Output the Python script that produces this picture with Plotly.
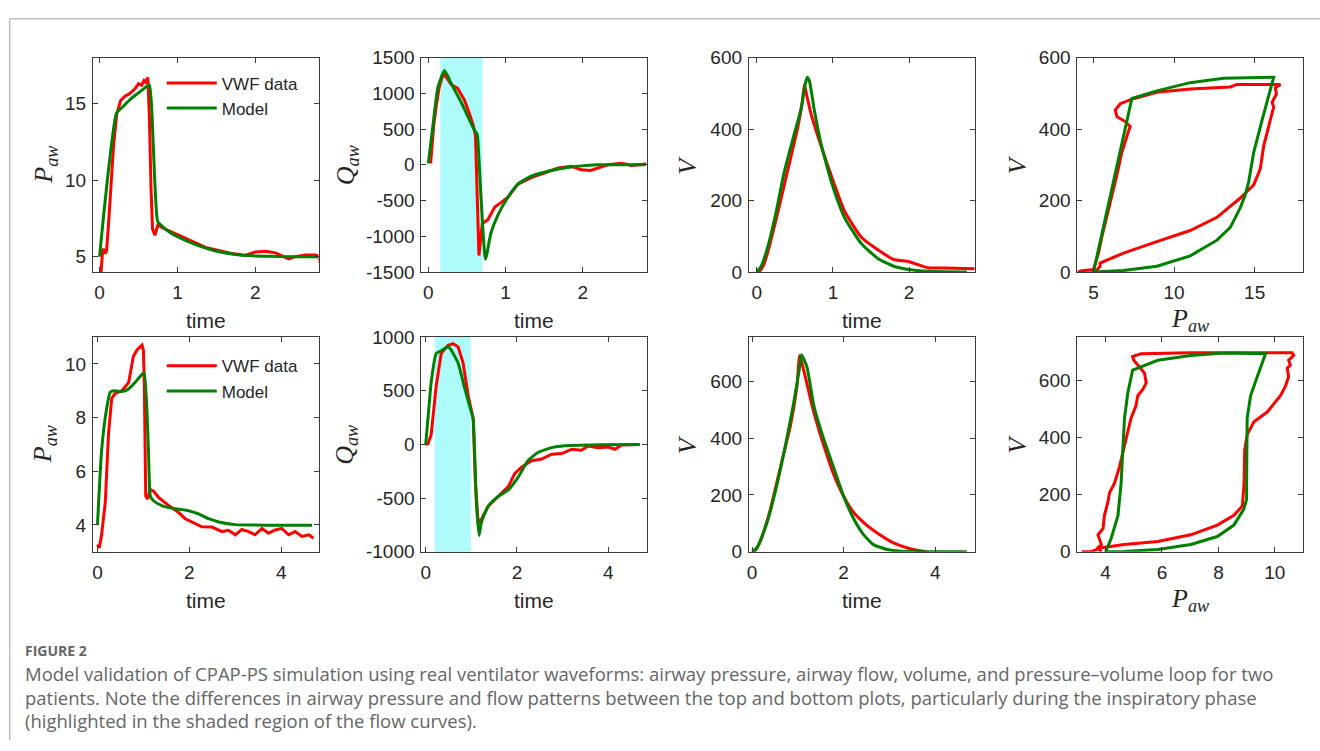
import plotly.graph_objects as go

RED = "#FF0000"
GREEN = "#008000"
SHADE = "rgb(174,251,251)"
AXC = "#3a3a3a"
TXT = "#262626"
SANS = "Liberation Sans, Arial, sans-serif"
SERIF = "Liberation Serif, Times New Roman, serif"

# ---------------- Patient 1 (top row) ----------------
p1_paw_data_t = [0, 0.02, 0.04, 0.05, 0.07, 0.09, 0.12, 0.15, 0.18, 0.22, 0.27, 0.33, 0.37, 0.42, 0.46, 0.5, 0.54,
                 0.57, 0.59, 0.62, 0.64, 0.66, 0.68, 0.71, 0.75, 0.8, 0.93, 1.06, 1.19, 1.36, 1.53, 1.7, 1.87,
                 2.0, 2.13, 2.26, 2.36, 2.43, 2.51, 2.64, 2.77, 2.81, 2.83]
p1_paw_data = [4.1, 4.1, 5.4, 5.5, 5.2, 5.4, 7.5, 10.0, 12.3, 14.3, 15.2, 15.5, 15.6, 15.8, 16.0, 16.3, 16.2,
               16.5, 16.4, 16.7, 14.0, 9.5, 6.8, 6.4, 7.1, 6.9, 6.6, 6.3, 6.0, 5.6, 5.4, 5.2, 5.1,
               5.3, 5.35, 5.25, 5.0, 4.85, 5.0, 5.1, 5.1, 5.05, 4.6]
p1_paw_model_t = [0, 0.05, 0.1, 0.15, 0.2, 0.22, 0.3, 0.4, 0.5, 0.6, 0.64, 0.745, 0.8, 0.9, 1.0, 1.2, 1.4, 1.6,
                  1.8, 2.0, 2.2, 2.4, 2.8]
p1_paw_model = [5.0, 7.6, 10.0, 12.2, 14.0, 14.4, 14.8, 15.3, 15.7, 16.1, 16.2, 7.3, 7.0, 6.6, 6.3, 5.85, 5.5, 5.25,
                5.1, 5.05, 5.02, 5.0, 5.0]

p1_q_data_t = [0.03, 0.05, 0.07, 0.1, 0.14, 0.18, 0.21, 0.25, 0.3, 0.38, 0.47, 0.53, 0.58, 0.61, 0.635, 0.655,
               0.68, 0.70, 0.77, 0.86, 0.94, 1.03, 1.16, 1.33, 1.5, 1.68, 1.85, 1.98, 2.1, 2.19, 2.32, 2.5,
               2.63, 2.82]
p1_q_data = [20, 300, 550, 800, 1080, 1230, 1260, 1200, 1120, 1070, 900, 720, 560, 410, -500, -1270,
             -1000, -820, -770, -590, -530, -455, -270, -180, -115, -45, -20, -70, -80, -45, 0, 20, -10, 10]
p1_q_model_t = [0, 0.06, 0.125, 0.21, 0.3, 0.43, 0.51, 0.6, 0.63, 0.64, 0.74, 0.81, 0.9, 1.03, 1.16, 1.33,
                1.55, 1.76, 1.98, 2.19, 2.62, 2.8]
p1_q_model = [20, 550, 1090, 1320, 1130, 865, 680, 480, 430, 360, -1320, -955, -705, -455, -270, -160,
              -90, -45, -15, 0, 0, 0]
p1_insp_window = [0.155, 0.70]

p1_v_data_t = [0.03, 0.08, 0.14, 0.28, 0.41, 0.54, 0.6, 0.625, 0.65, 0.71, 0.84, 1.02, 1.15, 1.37, 1.59, 1.8,
               1.98, 2.11, 2.24, 2.46, 2.87]
p1_v_data = [0, 15, 53, 171, 289, 407, 480, 525, 500, 444, 355, 244, 171, 98, 62, 35, 30, 21, 12, 11, 9]
p1_v_model_t = [0, 0.057, 0.144, 0.25, 0.36, 0.49, 0.58, 0.63, 0.66, 0.69, 0.755, 0.84, 0.93, 1.02, 1.15,
                1.37, 1.59, 1.8, 2.02, 2.24, 2.76]
p1_v_model = [0, 16, 71, 165, 280, 385, 455, 520, 545, 535, 453, 362, 289, 225, 153, 80, 38, 16, 6, 2, 0]

p1_loop_data_p = [4.0, 4.59, 5.2, 5.41, 5.41, 6.86, 8.93, 11.0, 12.66, 14.11, 14.94, 15.35, 15.56, 15.77,
                  15.97, 16.18, 16.08, 16.35, 16.28, 16.6, 13.9, 13.49, 11.0, 8.93, 7.48, 6.66, 6.35, 6.45,
                  6.97, 7.28, 7.17, 6.76, 6.45, 6.14, 5.83, 5.52, 5.31, 5.1, 5.0, 4.17]
p1_loop_data_v = [0, 5, 5, 16, 25, 53, 85, 116, 153, 207, 244, 289, 353, 389, 425, 462, 475, 498, 516, 525,
                  525, 518, 512, 503, 485, 471, 453, 435, 421, 407, 394, 335, 271, 216, 153, 98, 53, 25, 7, 3]
p1_loop_model_p = [5.0, 7.38, 8.93, 11.0, 13.07, 14.94, 16.18, 15.46, 14.94, 14.63, 14.42, 14.11, 13.49,
                   12.66, 11.0, 8.93, 6.86, 5.0]
p1_loop_model_v = [0, 486, 507, 530, 542, 545, 545, 425, 335, 253, 216, 180, 125, 89, 45, 16, 4, 0]

# ---------------- Patient 2 (bottom row) ----------------
p2_paw_data_t = [0, 0.04, 0.09, 0.17, 0.24, 0.31, 0.38, 0.53, 0.68, 0.78, 0.86, 0.93, 0.97, 1.0, 1.02, 1.05,
                 1.09, 1.15, 1.22, 1.33, 1.55, 1.76, 1.91, 2.05, 2.27, 2.49, 2.71, 2.85, 3.0, 3.14, 3.29,
                 3.43, 3.58, 3.72, 3.87, 4.01, 4.16, 4.3, 4.45, 4.6, 4.7]
p2_paw_data = [3.27, 3.15, 3.63, 4.84, 7.38, 8.71, 8.89, 9.0, 9.31, 10.28, 10.52, 10.64, 10.7, 10.5, 9.19,
               5.08, 4.96, 5.32, 5.26, 5.02, 4.72, 4.47, 4.23, 4.11, 3.93, 3.92, 3.75, 3.8, 3.63, 3.83, 3.75,
               3.63, 3.87, 3.69, 3.81, 3.87, 3.63, 3.75, 3.57, 3.63, 3.5]
p2_paw_model_t = [0, 0.09, 0.2, 0.28, 0.38, 0.53, 0.68, 0.82, 0.97, 1.02, 1.11, 1.15, 1.22, 1.4, 1.69,
                  1.98, 2.2, 2.42, 2.64, 3.0, 3.72, 4.67]
p2_paw_model = [3.99, 6.77, 8.34, 8.95, 9.0, 8.97, 9.07, 9.31, 9.61, 9.67, 6.77, 5.08, 4.9, 4.72, 4.6,
                4.53, 4.41, 4.23, 4.11, 4.01, 3.99, 3.99]

p2_q_data_t = [0, 0.05, 0.12, 0.23, 0.34, 0.49, 0.6, 0.71, 0.82, 0.93, 1.04, 1.09, 1.15, 1.22, 1.37, 1.51,
               1.66, 1.81, 1.95, 2.1, 2.32, 2.54, 2.76, 2.98, 3.2, 3.41, 3.56, 3.78, 4.0, 4.15, 4.29, 4.51,
               4.69]
p2_q_data = [0, 6, 91, 545, 848, 924, 939, 909, 758, 455, 242, -364, -727, -697, -576, -515, -455, -394,
             -273, -212, -152, -136, -91, -85, -45, -55, -15, -30, -24, -45, -6, 0, 0]
p2_q_model_t = [0, 0.05, 0.12, 0.23, 0.34, 0.49, 0.56, 0.71, 0.86, 1.0, 1.04, 1.11, 1.17, 1.22, 1.37, 1.59,
                1.81, 2.03, 2.24, 2.46, 2.76, 3.05, 3.78, 4.69]
p2_q_model = [0, 242, 576, 848, 873, 909, 879, 758, 515, 303, 242, -545, -848, -727, -576, -485, -424,
              -303, -152, -76, -30, -12, -3, 0]
p2_insp_window = [0.197, 0.987]

p2_v_data_t = [0.05, 0.18, 0.4, 0.62, 0.84, 0.98, 1.04, 1.13, 1.35, 1.56, 1.78, 2.0, 2.22, 2.51, 2.8, 3.09,
               3.38, 3.6, 3.82]
p2_v_data = [0, 36, 150, 297, 445, 581, 690, 637, 490, 377, 274, 195, 138, 93, 59, 31, 14, 5, 0]
p2_v_model_t = [0, 0.11, 0.33, 0.55, 0.76, 0.91, 1.05, 1.08, 1.2, 1.35, 1.56, 1.78, 2.0, 2.22, 2.44, 2.65,
                2.95, 3.24, 4.69]
p2_v_model = [0, 14, 104, 240, 399, 524, 660, 693, 649, 513, 399, 297, 195, 116, 59, 25, 8, 2, 0]

p2_loop_data_p = [3.16, 3.49, 3.85, 4.67, 5.85, 7.02, 7.96, 8.55, 8.85, 8.91, 8.93, 9.02, 9.26, 9.49, 9.73,
                  9.96, 10.2, 10.38, 10.49, 10.44, 10.55, 10.49, 10.67, 10.61, 9.38, 7.02, 5.26, 4.96, 5.0,
                  5.2, 5.38, 5.44, 5.32, 5.14, 5.08, 4.9, 4.73, 4.61, 4.49, 4.32, 4.14, 4.08, 3.96, 3.91,
                  3.73, 3.85, 3.73, 3.85]
p2_loop_data_v = [0, 0, 14, 25, 36, 59, 93, 127, 160, 240, 353, 409, 454, 471, 488, 516, 545, 579, 612, 641,
                  652, 669, 686, 695, 695, 695, 692, 682, 669, 646, 624, 590, 567, 545, 511, 466, 398, 353,
                  296, 240, 206, 172, 127, 81, 59, 25, 14, 0]
p2_loop_model_p = [4.0, 4.2, 4.44, 4.55, 4.61, 4.67, 4.79, 4.96, 5.85, 7.02, 8.2, 9.14, 9.67, 9.38, 9.14,
                   9.02, 9.0, 9.0, 9.0, 8.9, 8.55, 7.96, 7.02, 5.85, 4.67, 4.0]
p2_loop_model_v = [0, 47, 127, 240, 353, 466, 556, 635, 669, 686, 694, 694, 692, 612, 545, 466, 353, 240,
                   183, 149, 93, 53, 25, 8, 1, 0]

# ---------------- panel geometry (pixels in a 1320x751 page) ----------------
W, H = 1320, 751
col_px = [(91, 317), (420, 646), (748, 974), (1077, 1303)]
row_px = [(49, 269.5), (336.5, 557.3)]

fig = go.Figure()

panels = [
    # (row, col, xdata, ydata, xmodel, ymodel, xrange, yrange, xticks, yticks, ylabel, xlabel, smooth)
    (0, 0, p1_paw_data_t, p1_paw_data, p1_paw_model_t, p1_paw_model, [-0.086, 2.81], [4, 18], [0, 1, 2], [5, 10, 15], "P", "time", True),
    (0, 1, p1_q_data_t, p1_q_data, p1_q_model_t, p1_q_model, [-0.09, 2.83], [-1500, 1500], [0, 1, 2], [-1500, -1000, -500, 0, 500, 1000, 1500], "Q", "time", True),
    (0, 2, p1_v_data_t, p1_v_data, p1_v_model_t, p1_v_model, [-0.105, 2.86], [0, 600], [0, 1, 2], [0, 200, 400, 600], "V", "time", True),
    (0, 3, p1_loop_data_p, p1_loop_data_v, p1_loop_model_p, p1_loop_model_v, [4, 18], [0, 600], [5, 10, 15], [0, 200, 400, 600], "V", "P", False),
    (1, 0, p2_paw_data_t, p2_paw_data, p2_paw_model_t, p2_paw_model, [-0.1, 4.81], [3, 11], [0, 2, 4], [4, 6, 8, 10], "P", "time", True),
    (1, 1, p2_q_data_t, p2_q_data, p2_q_model_t, p2_q_model, [-0.095, 4.85], [-1000, 1000], [0, 2, 4], [-1000, -500, 0, 500, 1000], "Q", "time", True),
    (1, 2, p2_v_data_t, p2_v_data, p2_v_model_t, p2_v_model, [-0.07, 4.86], [0, 755], [0, 2, 4], [0, 200, 400, 600], "V", "time", True),
    (1, 3, p2_loop_data_p, p2_loop_data_v, p2_loop_model_p, p2_loop_model_v, [3, 11], [0, 750], [4, 6, 8, 10], [0, 200, 400, 600], "V", "P", False),
]

ylabel_shift = {0: -48, 1: -75, 2: -61, 3: -60}
annotations = []
shapes = []


def tick_text(vals):
    return [str(v) for v in vals]


for i, (r, c, xd, yd, xm, ym, xr, yr, xt, yt, ylab, xlab, smooth) in enumerate(panels):
    n = i + 1
    xa = "x" if n == 1 else f"x{n}"
    ya = "y" if n == 1 else f"y{n}"
    x0, x1 = col_px[c]
    t0, t1 = row_px[r]
    axis_common = dict(
        showline=True, linecolor=AXC, linewidth=1, mirror="ticks",
        ticks="inside", ticklen=5, tickwidth=1, tickcolor=AXC,
        showgrid=False, zeroline=False,
        tickfont=dict(family=SANS, size=19, color=TXT),
    )
    fig.layout[f"xaxis{'' if n == 1 else n}"] = dict(
        domain=[x0 / W, x1 / W], anchor=ya, range=xr, tickmode="array", tickvals=xt, ticktext=tick_text(xt),
        ticklabelstandoff=3, **axis_common)
    fig.layout[f"yaxis{'' if n == 1 else n}"] = dict(
        domain=[(H - t1) / H, (H - t0) / H], anchor=xa, range=yr, tickmode="array", tickvals=yt,
        ticktext=tick_text(yt), ticklabelstandoff=2, **axis_common)

    legend_name = "legend" if r == 0 else "legend2"
    show_leg = (c == 0)
    model_shape = dict(shape="spline", smoothing=0.5) if smooth else {}
    data_shape = dict(shape="spline", smoothing=0.5) if (smooth and ylab == "V") else {}
    fig.add_trace(go.Scatter(x=xd, y=yd, mode="lines", name="VWF data",
                             line=dict(color=RED, width=3, **data_shape), xaxis=xa, yaxis=ya,
                             showlegend=show_leg, legend=legend_name))
    fig.add_trace(go.Scatter(x=xm, y=ym, mode="lines", name="Model",
                             line=dict(color=GREEN, width=3, **model_shape), xaxis=xa, yaxis=ya,
                             showlegend=show_leg, legend=legend_name))

    # y-axis label (italic serif, LaTeX-like)
    if ylab == "V":
        ytxt = "<i>V</i>"
    else:
        ytxt = f"<i>{ylab}</i><sub><i>aw</i></sub>"
    annotations.append(dict(text=ytxt, xref=f"{xa} domain", yref=f"{ya} domain", x=0, y=0.5,
                            xanchor="center", yanchor="middle", xshift=ylabel_shift[c], textangle=-90,
                            showarrow=False, font=dict(family=SERIF, size=26, color=TXT)))
    # x-axis label
    if xlab == "time":
        annotations.append(dict(text="time", xref=f"{xa} domain", yref=f"{ya} domain", x=0.5, y=0,
                                xanchor="center", yanchor="middle", yshift=-49, showarrow=False,
                                font=dict(family=SANS, size=21, color=TXT)))
    else:
        annotations.append(dict(text="<i>P</i><sub><i>aw</i></sub>", xref=f"{xa} domain", yref=f"{ya} domain",
                                x=0.5, y=0, xanchor="center", yanchor="middle", yshift=-48, showarrow=False,
                                font=dict(family=SERIF, size=26, color=TXT)))

# shaded inspiratory windows on the flow plots
for ax_id, win in (("2", p1_insp_window), ("6", p2_insp_window)):
    shapes.append(dict(type="rect", xref=f"x{ax_id}", yref=f"y{ax_id} domain", x0=win[0], x1=win[1],
                       y0=0, y1=1, fillcolor=SHADE, line=dict(width=0), layer="below"))

# page frame lines
shapes.append(dict(type="line", xref="paper", yref="paper", x0=7.7 / W, x1=1, y0=(H - 9) / H, y1=(H - 9) / H,
                   line=dict(color="#bdbdbd", width=1.5)))
shapes.append(dict(type="line", xref="paper", yref="paper", x0=7.7 / W, x1=7.7 / W, y0=0, y1=(H - 9) / H,
                   line=dict(color="#bdbdbd", width=1.5)))

# caption
CAP = "Open Sans, sans-serif"
caption_lines = [
    "Model validation of CPAP-PS simulation using real ventilator waveforms: airway pressure, airway flow, volume, and pressure\u2013volume loop for two",
    "patients. Note the differences in airway pressure and flow patterns between the top and bottom plots, particularly during the inspiratory phase",
    "(highlighted in the shaded region of the flow curves).",
]
annotations.append(dict(text="<b>FIGURE 2</b>", xref="paper", yref="paper", x=21 / W, y=(H - 659) / H,
                        xanchor="left", yanchor="middle", showarrow=False,
                        font=dict(family=CAP, size=14, color="#666666")))
for k, line in enumerate(caption_lines):
    annotations.append(dict(text=line, xref="paper", yref="paper", x=21 / W, y=(H - (683 + 24 * k)) / H,
                            xanchor="left", yanchor="middle", showarrow=False,
                            font=dict(family=CAP, size=18.5, color="#666666")))

legend_style = dict(font=dict(family=SANS, size=17, color=TXT), bgcolor="rgba(0,0,0,0)",
                    borderwidth=0, itemwidth=50, tracegroupgap=0, xanchor="left", yanchor="top")
fig.update_layout(
    width=W, height=H, margin=dict(l=0, r=0, t=0, b=0),
    paper_bgcolor="white", plot_bgcolor="white",
    shapes=shapes, annotations=annotations,
    legend=dict(x=160 / W, y=(H - 57) / H, **legend_style),
    legend2=dict(x=160 / W, y=(H - 348) / H, **legend_style),
)

page_css = ("var s=document.createElement('style');"
            "s.textContent='html,body{margin:0;padding:0;overflow:hidden;width:1320px;height:751px;}"
            ".plotly-graph-div{position:absolute;left:0;top:0;}';"
            "document.head.appendChild(s);")
fig.write_html("out.html", config={"displayModeBar": False}, post_script=page_css)
